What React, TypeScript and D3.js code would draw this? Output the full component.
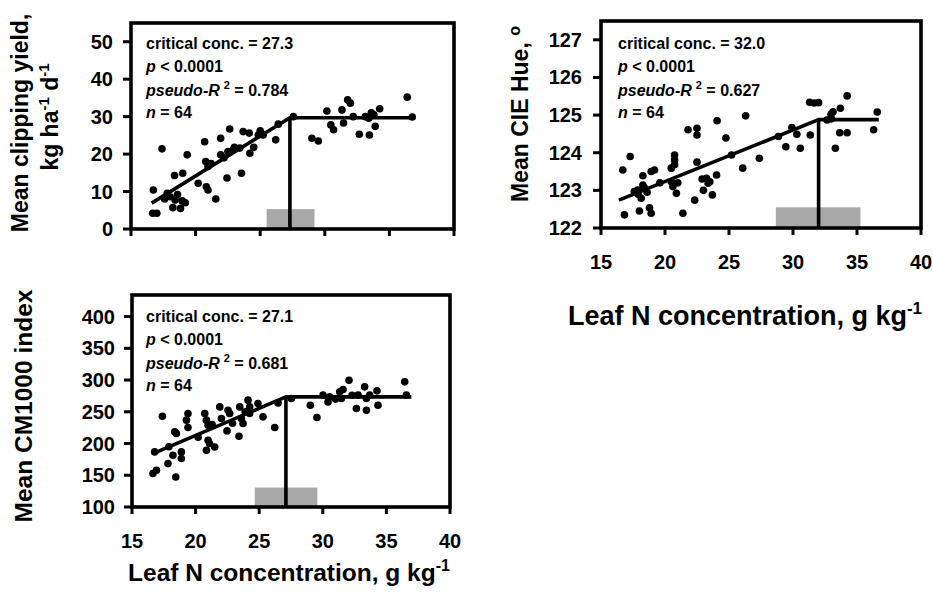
import React from 'react';
import * as d3 from 'd3';

// ---------- DATA ----------
const xTicks = [15, 20, 25, 30, 35, 40];
const yieldTicks = [0, 10, 20, 30, 40, 50];
const hueTicks = [122, 123, 124, 125, 126, 127];
const cmTicks = [100, 150, 200, 250, 300, 350, 400];

// [leaf N, response]
const clippingPoints: [number, number][] = [
  [17.4, 21.4], [16.73, 10.4], [16.68, 4.2], [17.0, 4.2], [18.37, 14.3], [19.35, 19.8], [19.0, 14.9],
  [18.03, 8.6], [18.42, 7.75], [18.97, 7.5], [18.24, 5.7], [18.83, 5.5], [17.8, 9.5], [18.6, 9.2],
  [20.7, 23.3], [20.78, 18.0], [20.96, 16.7], [20.83, 11.3], [20.96, 10.4], [21.56, 8.0], [21.94, 24.2],
  [21.94, 19.8], [22.43, 13.6], [22.64, 26.7], [22.5, 20.7], [22.9, 21.1], [23.55, 14.9], [23.68, 26.0],
  [24.15, 25.6], [23.42, 21.6], [24.2, 20.2], [24.85, 25.1], [25.23, 25.1], [26.2, 23.8], [26.4, 28.0],
  [27.57, 30.0], [29.0, 24.2], [29.5, 23.5], [30.16, 31.5], [30.47, 27.8], [30.68, 26.5], [31.33, 31.8],
  [31.45, 28.3], [31.77, 34.5], [31.98, 33.6], [32.67, 25.3], [33.14, 30.0], [33.4, 29.6], [33.45, 25.1],
  [33.8, 30.5], [33.9, 27.4], [34.25, 32.1], [36.38, 35.2], [36.77, 29.9], [21.2, 17.5], [23.0, 21.8],
  [24.5, 21.8], [20.2, 12.2], [33.6, 31.0], [17.6, 8.0], [19.2, 7.0], [22.2, 19.0], [25.0, 26.2], [32.2, 30.0],
];

const huePoints: [number, number][] = [
  [16.7, 123.54], [17.28, 123.9], [16.83, 122.35], [17.6, 122.97], [17.87, 123.01], [18.27, 123.39],
  [18.27, 123.14], [18.4, 123.06], [18.14, 122.79], [18.0, 122.45], [18.79, 122.54], [18.92, 122.39],
  [18.92, 123.5], [19.18, 123.54], [20.49, 123.59], [20.49, 123.23], [20.62, 123.1], [20.75, 123.94],
  [20.75, 123.81], [20.75, 123.68], [20.89, 122.92], [21.4, 122.39], [21.8, 124.61], [22.5, 124.65],
  [22.5, 124.47], [22.5, 123.75], [22.32, 122.74], [23.24, 123.32], [23.37, 123.19], [23.5, 123.23],
  [24.03, 123.41], [23.7, 122.88], [24.07, 124.85], [24.76, 124.39], [25.2, 123.94], [26.07, 123.59],
  [26.3, 124.98], [27.37, 123.85], [28.86, 124.43], [29.44, 124.16], [29.91, 124.67], [30.3, 124.49],
  [30.57, 124.12], [31.35, 124.47], [31.3, 125.34], [31.66, 125.32], [32.0, 125.33], [32.66, 124.87],
  [32.97, 125.02], [33.13, 125.09], [33.31, 124.12], [33.7, 125.18], [33.65, 124.53], [34.23, 124.53],
  [34.23, 125.51], [36.3, 124.61], [36.58, 125.08], [18.6, 122.95], [21.0, 123.2], [22.9, 123.3],
  [17.9, 122.9], [19.6, 123.2], [23.0, 123.0], [33.0, 124.9],
];

const cmPoints: [number, number][] = [
  [17.39, 243], [16.78, 186.8], [16.65, 152.7], [16.92, 157.9], [17.83, 168.4], [18.22, 181.5], [18.44, 147.3],
  [18.36, 218.3], [18.49, 215.8], [18.88, 186.8], [18.88, 176.3], [19.28, 236.8], [19.4, 247.3], [19.4, 225.2],
  [20.72, 247.3], [20.85, 236.8], [20.98, 228.9], [20.98, 205.2], [21.1, 200], [20.85, 189.4], [21.5, 194.6],
  [21.9, 257.7], [22.03, 239.4], [22.55, 252.5], [22.68, 247.3], [22.47, 219.9], [23.41, 211.5], [23.6, 239.4],
  [23.73, 231.5], [23.47, 257.7], [24.12, 268.3], [24.25, 257.7], [24.25, 247.3], [24.9, 263.1], [25.3, 242],
  [26.22, 225.2], [26.48, 264], [27.53, 271], [29.02, 260.4], [29.54, 241], [30.02, 276.2], [30.41, 265.6],
  [30.54, 273.5], [31.33, 281.4], [31.46, 271], [31.59, 285.2], [32.06, 299.8], [32.77, 276.2], [32.64, 255.2],
  [33.29, 289.3], [33.43, 252.5], [33.43, 271], [33.69, 276.2], [34.26, 283], [34.34, 260.4], [36.44, 297.2],
  [36.57, 276.2], [17.9, 195], [20.2, 210], [21.3, 230], [22.9, 232], [23.9, 250], [31.0, 270], [32.3, 276],
];

// linear-plateau fits: [startX, startY, criticalX, plateauY, endX]
const clippingFit = [16.6, 6.9, 27.3, 29.7, 36.9];
const hueFit = [16.4, 122.74, 32.0, 124.88, 36.7];
const cmFit = [16.65, 184, 27.1, 273.5, 36.96];

// confidence interval bars: [low, high, top]
const clippingCI = [25.5, 29.2, 5.3];
const hueCI = [28.66, 35.27, 122.55];
const cmCI = [24.65, 29.57, 130.6];

const clippingStats = ['27.3', '0.784', '64'];
const hueStats = ['32.0', '0.627', '64'];
const cmStats = ['27.1', '0.681', '64'];

const FONT = '"Liberation Sans", Arial, Helvetica, sans-serif';

type PanelProps = {
  left: number; right: number; top: number; bottom: number;
  yDomain: [number, number]; yTicks: number[];
  points: [number, number][]; fit: number[]; ci: number[]; stats: string[];
  showXLabels: boolean; yLabelRight: number; annTop: number; annX: number;
};

function Panel(p: PanelProps) {
  const x = d3.scaleLinear().domain([15, 40]).range([p.left, p.right]);
  const y = d3.scaleLinear().domain(p.yDomain).range([p.bottom, p.top]);
  const [sx, sy, cx, py, ex] = p.fit;
  const fitLine = d3.line<[number, number]>().x(d => x(d[0])).y(d => y(d[1]));
  const y0 = p.yDomain[0];
  return (
    <g>
      <rect x={x(p.ci[0])} y={y(p.ci[2])} width={x(p.ci[1]) - x(p.ci[0])} height={y(y0) - y(p.ci[2])} fill="#a8a8a8" />
      {p.points.map((d, i) => (
        <circle key={i} cx={x(d[0])} cy={y(d[1])} r={3.8} fill="#000" />
      ))}
      <path d={fitLine([[sx, sy], [cx, py], [ex, py]]) || ''} fill="none" stroke="#000" strokeWidth={3.6} strokeLinejoin="round" />
      <path d={fitLine([[cx, y0], [cx, py]]) || ''} fill="none" stroke="#000" strokeWidth={3.6} />
      <rect x={p.left} y={p.top} width={p.right - p.left} height={p.bottom - p.top} fill="none" stroke="#000" strokeWidth={3.6} />
      {xTicks.map(t => (
        <line key={'xt' + t} x1={x(t)} x2={x(t)} y1={p.bottom} y2={p.bottom + 7} stroke="#000" strokeWidth={3} />
      ))}
      {p.yTicks.map(t => (
        <line key={'yt' + t} x1={p.left - 8} x2={p.left} y1={y(t)} y2={y(t)} stroke="#000" strokeWidth={3} />
      ))}
      {p.yTicks.map(t => (
        <text key={'yl' + t} x={p.yLabelRight} y={y(t) + 7} textAnchor="end" fontSize={20} fontWeight="bold" fontFamily={FONT}>{t}</text>
      ))}
      {p.showXLabels && xTicks.map(t => (
        <text key={'xl' + t} x={x(t)} y={p.bottom + 41} textAnchor="middle" fontSize={20} fontWeight="bold" fontFamily={FONT}>{t}</text>
      ))}
      <g fontSize={16} fontWeight="bold" fontFamily={FONT}>
        <text x={p.annX} y={p.annTop}>critical conc. = {p.stats[0]}</text>
        <text x={p.annX} y={p.annTop + 23}><tspan fontStyle="italic">p</tspan> &lt; 0.0001</text>
        <text x={p.annX} y={p.annTop + 46.5}>
          <tspan fontStyle="italic">pseudo-R</tspan>
          <tspan dx={4} dy={-7} fontSize={11}>2</tspan>
          <tspan dy={7}> = {p.stats[1]}</tspan>
        </text>
        <text x={p.annX} y={p.annTop + 69}><tspan fontStyle="italic">n</tspan> = {p.stats[2]}</text>
      </g>
    </g>
  );
}

export default function App() {
  return (
    <svg width={933} height={605} style={{ position: 'absolute', left: 0, top: 0, background: '#fff' }}>
      <rect width={933} height={605} fill="#fff" />
      <Panel left={131} right={454} top={23} bottom={229} yDomain={[0, 55]} yTicks={yieldTicks}
        points={clippingPoints} fit={clippingFit} ci={clippingCI} stats={clippingStats}
        showXLabels={false} yLabelRight={113} annTop={49} annX={146} />
      <Panel left={601} right={921} top={21} bottom={228} yDomain={[122, 127.5]} yTicks={hueTicks}
        points={huePoints} fit={hueFit} ci={hueCI} stats={hueStats}
        showXLabels={true} yLabelRight={582} annTop={49} annX={618} />
      <Panel left={132} right={450} top={295} bottom={507} yDomain={[100, 434]} yTicks={cmTicks}
        points={cmPoints} fit={cmFit} ci={cmCI} stats={cmStats}
        showXLabels={true} yLabelRight={115} annTop={322} annX={146} />

      <g fontWeight="bold" fontFamily={FONT}>
        <text transform="translate(28,123) rotate(-90)" textAnchor="middle" fontSize={23}>Mean clipping yield,</text>
        <text transform="translate(58,117) rotate(-90)" textAnchor="middle" fontSize={23}>
          kg ha<tspan dy={-9} fontSize={15}>-1</tspan><tspan dy={9}> d</tspan><tspan dy={-9} fontSize={15}>-1</tspan>
        </text>
        <text transform="translate(528,114) rotate(-90)" textAnchor="middle" fontSize={23}>
          Mean CIE Hue, <tspan dy={-8} fontSize={16}>o</tspan>
        </text>
        <text transform="translate(32,406) rotate(-90)" textAnchor="middle" fontSize={24.5}>Mean CM1000 index</text>
        <text x={745} y={325} textAnchor="middle" fontSize={27}>
          Leaf N concentration, g kg<tspan dy={-11} fontSize={17}>-1</tspan>
        </text>
        <text x={289} y={581} textAnchor="middle" fontSize={24.5}>
          Leaf N concentration, g kg<tspan dy={-10} fontSize={16}>-1</tspan>
        </text>
      </g>
    </svg>
  );
}
